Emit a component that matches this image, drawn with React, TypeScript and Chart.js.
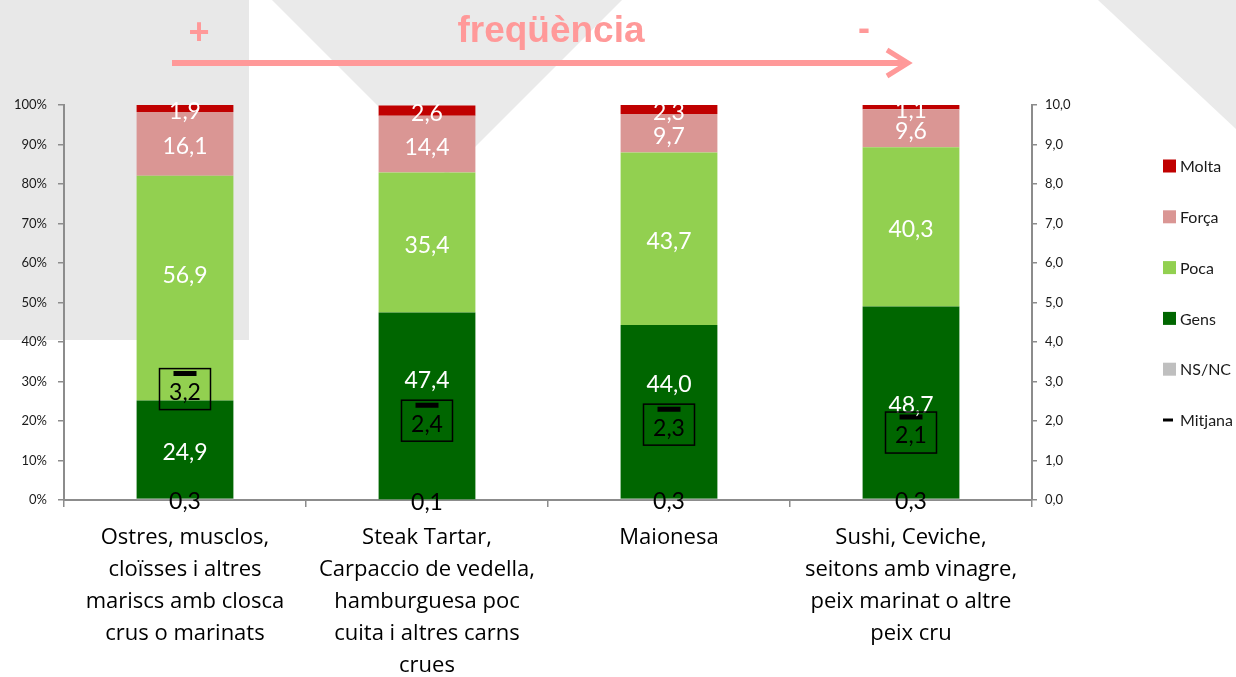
import React, { useEffect, useRef } from "react";
import { Chart, registerables } from "chart.js";
Chart.register(...registerables);

// ---------- DATA ----------
const categories: string[][] = [
  ["Ostres, musclos,", "cloïsses i altres", "mariscs amb closca", "crus o marinats"],
  ["Steak Tartar,", "Carpaccio de vedella,", "hamburguesa poc", "cuita i altres carns", "crues"],
  ["Maionesa"],
  ["Sushi, Ceviche,", "seitons amb vinagre,", "peix marinat o altre", "peix cru"],
];
const nsnc = [0.3, 0.1, 0.3, 0.3];
const gens = [24.9, 47.4, 44.0, 48.7];
const poca = [56.9, 35.4, 43.7, 40.3];
const forca = [16.1, 14.4, 9.7, 9.6];
const molta = [1.9, 2.6, 2.3, 1.1];
const mitjana = [3.2, 2.4, 2.3, 2.1];
const legendOrder = ["Molta", "Força", "Poca", "Gens", "NS/NC", "Mitjana"];
const titleText = "freqüència";

const FONT = "Lato, 'Noto Sans', sans-serif";
const XFONT = "'Open Sans', 'Noto Sans', sans-serif";
const fmt = (v: number) => v.toFixed(1).replace(".", ",");

const decorPlugin = {
  id: "decor",
  beforeDraw(chart: any) {
    const ctx = chart.ctx;
    ctx.save();
    ctx.fillStyle = "#ffffff";
    ctx.fillRect(0, 0, chart.width, chart.height);
    ctx.fillStyle = "#e8e8e8";
    ctx.fillRect(0, 0, 249, 340);
    ctx.fillStyle = "#eaeaea";
    ctx.beginPath();
    ctx.moveTo(272, 0); ctx.lineTo(622, 0); ctx.lineTo(447, 175); ctx.closePath();
    ctx.fill();
    ctx.beginPath();
    ctx.moveTo(1098, 0); ctx.lineTo(1236, 0); ctx.lineTo(1236, 129); ctx.closePath();
    ctx.fill();
    ctx.fillStyle = "#ff9999";
    ctx.font = "bold 37px 'Liberation Sans', Arial, sans-serif";
    ctx.textAlign = "center";
    ctx.textBaseline = "alphabetic";
    ctx.fillText(titleText, 551, 42);
    ctx.font = "bold 36px 'Liberation Sans', Arial, sans-serif";
    ctx.fillText("+", 199, 44);
    ctx.fillText("-", 864, 40);
    ctx.strokeStyle = "#ff9999";
    ctx.lineWidth = 6;
    ctx.beginPath(); ctx.moveTo(172, 63); ctx.lineTo(906, 63); ctx.stroke();
    ctx.lineWidth = 5;
    ctx.beginPath(); ctx.moveTo(887, 50); ctx.lineTo(908, 63); ctx.lineTo(887, 76); ctx.stroke();
    ctx.restore();
  },
  afterDatasetsDraw(chart: any) {
    const ctx = chart.ctx;
    const mMeta = chart.getDatasetMeta(0);
    ctx.save();
    ctx.textAlign = "center";
    ctx.textBaseline = "middle";
    ctx.font = `23px ${FONT}`;
    // bar labels
    chart.data.datasets.forEach((ds: any, i: number) => {
      if (ds.type === "line") return;
      const meta = chart.getDatasetMeta(i);
      meta.data.forEach((el: any, j: number) => {
        const { x, y, base } = el.getProps(["x", "y", "base"], true);
        let cy = (y + base) / 2 + 3;
        const pm = mMeta.data[j].y;
        const bTop = pm - 5, bBot = pm + 36;
        if (ds.label !== "NS/NC") {
          if (cy >= bTop && cy <= bBot) cy = bTop - 20;
          else if (bTop > y && bBot > base && bTop < base) cy = (y + bTop) / 2 + 3;
        }
        ctx.fillStyle = ds.label === "NS/NC" ? "#000000" : "#ffffff";
        ctx.fillText(fmt(ds.data[j]), x, cy);
      });
    });
    // mitjana boxes
    mMeta.data.forEach((pt: any, j: number) => {
      const px = pt.x, pm = pt.y;
      ctx.strokeStyle = "#000";
      ctx.lineWidth = 1.5;
      ctx.strokeRect(px - 25.5, pm - 5, 51, 41);
      ctx.fillStyle = "#000";
      ctx.fillText(fmt(chart.data.datasets[0].data[j]), px, pm + 19);
    });
    // legend
    ctx.textAlign = "left";
    ctx.font = `16px ${FONT}`;
    legendOrder.forEach((name, k) => {
      const ds = chart.data.datasets.find((d: any) => d.label === name);
      const cy = 166 + k * 50.8;
      if (ds.type === "line") {
        ctx.fillStyle = "#000";
        ctx.fillRect(1163, cy - 1.5, 10, 3);
      } else {
        ctx.fillStyle = ds.backgroundColor;
        ctx.fillRect(1163, cy - 6.5, 13, 13);
      }
      ctx.fillStyle = "#1a1a1a";
      ctx.fillText(name, 1180, cy + 1);
    });
    ctx.restore();
  },
};

export default function App() {
  const ref = useRef<HTMLCanvasElement | null>(null);
  useEffect(() => {
    document.body.style.margin = "0";
    if (!ref.current) return;
    const barCommon = { type: "bar", yAxisID: "y", stack: "s", barPercentage: 0.4, categoryPercentage: 1.0, borderWidth: 0 };
    const axisGrey = "#8c8c8c";
    const chart = new Chart(ref.current, {
      type: "bar",
      data: {
        labels: categories,
        datasets: [
          {
            type: "line", label: "Mitjana", data: mitjana, yAxisID: "y2", showLine: false,
            pointStyle: "line", pointRadius: 11.5, pointHoverRadius: 11.5, pointBorderWidth: 5,
            borderColor: "#000", backgroundColor: "#000",
          },
          { ...barCommon, label: "NS/NC", data: nsnc, backgroundColor: "#bfbfbf" },
          { ...barCommon, label: "Gens", data: gens, backgroundColor: "#006600" },
          { ...barCommon, label: "Poca", data: poca, backgroundColor: "#92d050" },
          { ...barCommon, label: "Força", data: forca, backgroundColor: "#da9694" },
          { ...barCommon, label: "Molta", data: molta, backgroundColor: "#c00000" },
        ] as any,
      },
      options: {
        animation: false,
        responsive: false,
        layout: { padding: { top: 105, left: 0, right: 0, bottom: 0 } },
        plugins: { legend: { display: false }, tooltip: { enabled: false } },
        scales: {
          x: {
            stacked: true,
            grid: { display: true, drawOnChartArea: false, drawTicks: true, tickLength: 7, color: axisGrey, lineWidth: 1.5, offset: true },
            border: { display: true, color: axisGrey, width: 2 },
            ticks: { font: { family: XFONT, size: 22, lineHeight: 1.455 }, color: "#000", padding: 15, maxRotation: 0, autoSkip: false },
            afterFit: (s: any) => { s.height = 177; },
          },
          y: {
            stacked: true, min: 0, max: 100, position: "left",
            grid: { display: true, drawOnChartArea: false, drawTicks: true, tickLength: 6, color: axisGrey, lineWidth: 1.5 },
            border: { display: true, color: axisGrey, width: 2 },
            ticks: { stepSize: 10, callback: (v: any) => v + "%", font: { family: FONT, size: 13 }, color: "#1a1a1a", padding: 11 },
            afterFit: (s: any) => { s.width = 64; },
          },
          y2: {
            min: 0, max: 10, position: "right",
            grid: { display: true, drawOnChartArea: false, drawTicks: true, tickLength: 5, color: axisGrey, lineWidth: 1.5 },
            border: { display: true, color: axisGrey, width: 2 },
            ticks: { stepSize: 1, callback: (v: any) => fmt(Number(v)), font: { family: FONT, size: 13 }, color: "#1a1a1a", padding: 8 },
            afterFit: (s: any) => { s.width = 204; },
          },
        },
      } as any,
      plugins: [decorPlugin],
    });
    return () => chart.destroy();
  }, []);
  return (
    <div style={{ position: "absolute", left: 0, top: 0, width: 1236, height: 677 }}>
      <canvas ref={ref} width={1236} height={677} style={{ width: 1236, height: 677, display: "block" }} />
    </div>
  );
}
